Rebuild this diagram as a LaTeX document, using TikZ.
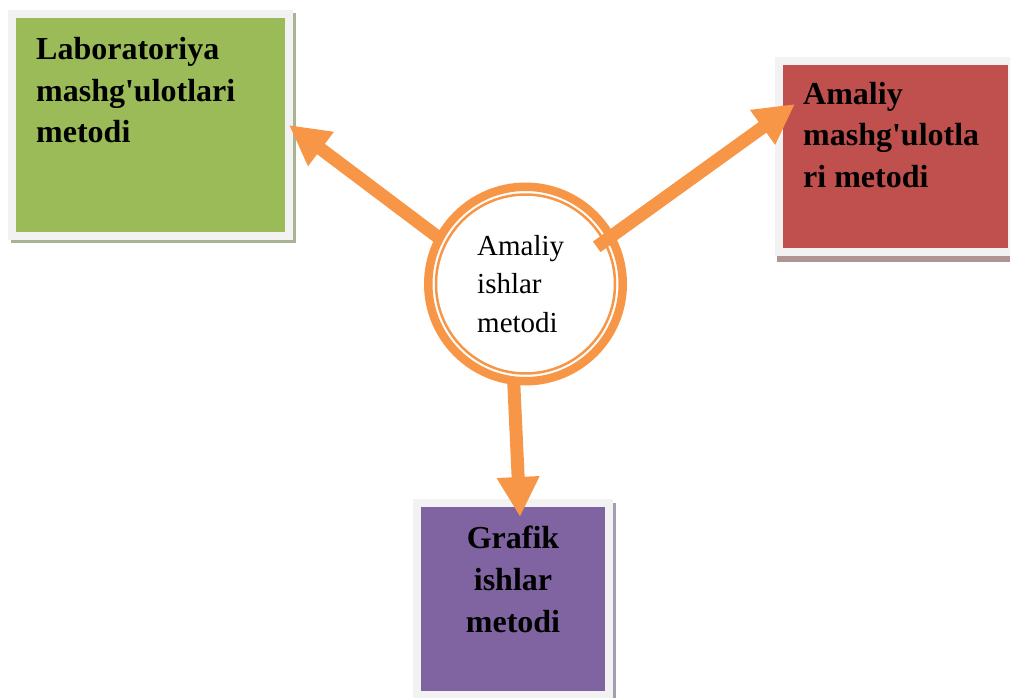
\documentclass[tikz,border=0pt]{standalone}
\usepackage{fontspec}
\setmainfont{Liberation Serif}
\usetikzlibrary{arrows.meta, positioning, shadows}

\definecolor{framegray}{HTML}{F2F2F2}
\definecolor{labgreen}{HTML}{9BBB59}
\definecolor{labshade}{HTML}{A8B294}
\definecolor{amalred}{HTML}{C0504D}
\definecolor{amalshade}{HTML}{B09393}
\definecolor{grafpurple}{HTML}{8064A2}
\definecolor{grafshade}{HTML}{A69CB2}
\definecolor{hubOrange}{HTML}{F79646}

\begin{document}
\begin{tikzpicture}[x=1pt, y=-1pt,
  methodbox/.style={rectangle, draw=framegray, line width=8pt,
                    outer sep=0pt, inner sep=0pt},
  boxtext/.style={inner sep=0pt, align=left,
                  font=\fontsize{32}{42}\selectfont\bfseries},
  hub/.style={circle, draw=hubOrange, line width=8.5pt, fill=white,
              minimum size=194.5pt, outer sep=0pt, inner sep=0pt},
  hubtext/.style={inner sep=0pt, align=left,
                  font=\fontsize{29}{38.5}\selectfont},
  link/.style={draw=hubOrange, line width=13pt,
               -{Triangle[length=40pt, width=40pt]}},
]
\useasboundingbox (0,0) rectangle (1010,698);

% ---- methods ----
\node[methodbox, fill=labgreen, minimum width=277pt, minimum height=222pt,
      drop shadow={shadow xshift=3pt, shadow yshift=-3pt, fill=labshade,
                   draw=labshade, opacity=1}] (lab) at (150.5,125) {};
\node[boxtext, anchor=base west] (labtext) at (36,143)
  {Laboratoriya\\mashg\textquotesingle ulotlari\\metodi};

\node[methodbox, fill=amalred, minimum width=233pt, minimum height=191pt,
      drop shadow={shadow xshift=2pt, shadow yshift=-6pt, fill=amalshade,
                   draw=amalshade, opacity=1}] (amal) at (895.5,156.5) {};
\node[boxtext, anchor=base west] (amaltext) at (803,188)
  {Amaliy\\mashg\textquotesingle ulotla\\ri metodi};

\node[methodbox, fill=grafpurple, minimum width=192pt, minimum height=192pt,
      drop shadow={shadow xshift=3pt, shadow yshift=-4pt, fill=grafshade,
                   draw=grafshade, opacity=1}] (graf) at (513,599) {};
\node[boxtext, align=center, anchor=base] (graftext) at (513,632)
  {Grafik\\ishlar\\metodi};

% ---- centre ----
\node[hub] (hub) at (525.5,284) {};
\draw[hubOrange, line width=2.5pt] (hub.center) circle[radius=89.5];
\node[hubtext, anchor=base west] (hubtitle) at (477,332)
  {Amaliy\\ishlar\\metodi};

% ---- arrows ----
\draw[link] (hub.152) -- (lab.east);
\draw[link, shorten <=-17pt] (hub.29) -- ([shift={(16,43)}]amal.north west);
\draw[link] (hub.263) -- ([shift={(7,14)}]graf.north);

\end{tikzpicture}
\end{document}
